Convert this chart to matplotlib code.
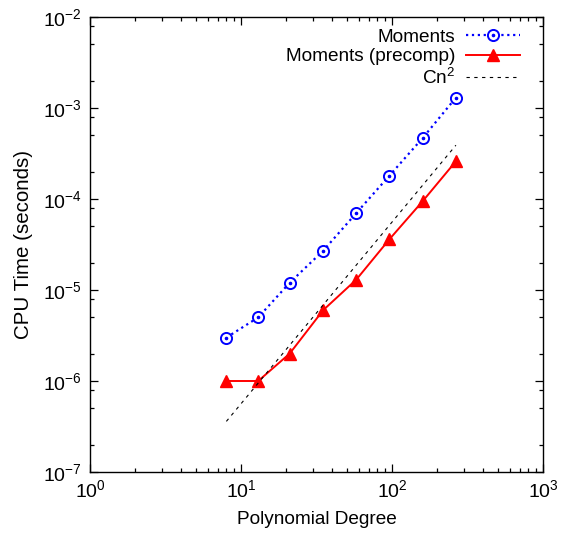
import numpy as np
import matplotlib
matplotlib.use("Agg")
import matplotlib.pyplot as plt
from matplotlib.ticker import LogLocator, NullFormatter
from matplotlib.legend_handler import HandlerTuple

plt.rcParams['font.family'] = ['Liberation Sans', 'DejaVu Sans']
plt.rcParams['mathtext.fontset'] = 'custom'
plt.rcParams['mathtext.rm'] = 'Liberation Sans'
plt.rcParams['mathtext.it'] = 'Liberation Sans:italic'

# values
degree = [8, 13, 21, 35, 58, 96, 160, 265]
moments = [3.0e-6, 5.0e-6, 1.2e-5, 2.7e-5, 7.0e-5, 1.8e-4, 4.7e-4, 1.3e-3]
moments_pre = [1.0e-6, 1.0e-6, 2.0e-6, 6.0e-6, 1.3e-5, 3.6e-5, 9.5e-5, 2.6e-4]
cn2_x = [8, 265]
cn2_y = [3.6e-7, 3.9e-4]

fig = plt.figure(figsize=(5.61, 5.38), dpi=100)
ax = fig.add_axes([90 / 561, 66 / 538, 453 / 561, 455 / 538])

l1, = ax.plot(degree, moments, color='#0000ff', ls=':', lw=1.6, marker='o',
              ms=8, mfc='white', mec='#0000ff', mew=1.4)
d1, = ax.plot(degree, moments, ls='none', marker='o', ms=1.6, color='#0000ff')
l2, = ax.plot(degree, moments_pre, color='#ff0000', ls='-', lw=1.4, marker='^',
              ms=9, mfc='#ff0000', mec='#ff0000')
l3, = ax.plot(cn2_x, cn2_y, color='black', ls=(0, (3, 4)), lw=0.8)

ax.set_xscale('log')
ax.set_yscale('log')
ax.set_xlim(1, 1e3)
ax.set_ylim(1e-7, 1e-2)

ax.xaxis.set_major_locator(LogLocator(base=10, numticks=10))
ax.xaxis.set_minor_locator(LogLocator(base=10, subs=np.arange(2, 10), numticks=10))
ax.yaxis.set_major_locator(LogLocator(base=10, numticks=10))
ax.yaxis.set_minor_locator(LogLocator(base=10, subs=[2, 5, 8], numticks=10))
ax.xaxis.set_minor_formatter(NullFormatter())
ax.yaxis.set_minor_formatter(NullFormatter())

ax.tick_params(which='both', direction='in', top=True, right=True, labelsize=14, width=0.9)
ax.tick_params(which='major', length=6, pad=6)
ax.tick_params(axis='x', which='major', pad=5)
ax.tick_params(which='minor', length=3)
for s in ax.spines.values():
    s.set_linewidth(1.0)

ax.set_xlabel('Polynomial Degree', fontsize=13.7, labelpad=7)
ax.set_ylabel('CPU Time (seconds)', fontsize=14.8, labelpad=7)

ax.legend([(l1, d1), l2, l3], ['Moments', 'Moments (precomp)', 'Cn$^2$'],
          handler_map={tuple: HandlerTuple(ndivide=1)},
          loc='upper right', bbox_to_anchor=(0.974, 1.0), frameon=False,
          markerfirst=False, fontsize=13.7, handlelength=2.85, labelspacing=0.12,
          handletextpad=0.55, borderaxespad=0.2)

fig.savefig('out.png', dpi=100)
